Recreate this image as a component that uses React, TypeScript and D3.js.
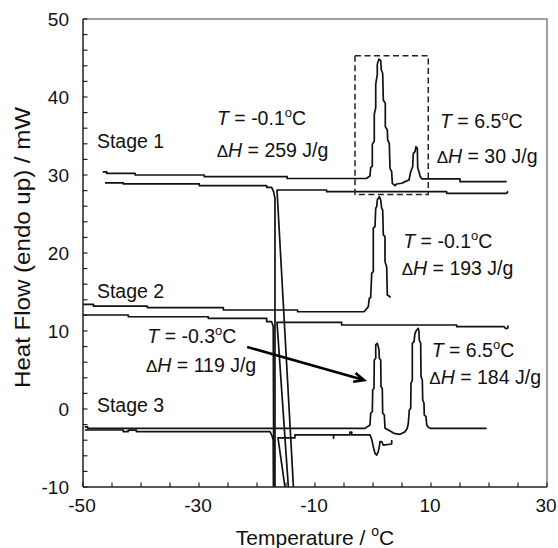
import React from 'react';
import * as d3 from 'd3';

type P = [number, number];

// axis ticks
const xTickLabels = [-50, -30, -10, 10, 30];
const yTickLabels = [-10, 0, 10, 20, 30, 40, 50];
const xMinorStep = 5;
const yMinorStep = 2;

// Stage 1
const stage1Heating: P[] = [
  [-46.6, 30.4], [-45.9, 30.4], [-45.9, 30.2], [-41.0, 30.2], [-41.0, 30.0], [-29.1, 30.0], [-29.1, 29.8],
  [-14.8, 29.8], [-14.8, 29.55], [-1.09, 29.58], [-0.52, 29.87], [-0.40, 30.94], [-0.12, 31.15], [-0.12, 33.93],
  [0.22, 34.36], [0.22, 37.78], [0.47, 38.63], [0.47, 41.62], [0.74, 42.91], [0.74, 44.19], [1.03, 44.87],
  [1.33, 44.65], [1.43, 43.46], [1.67, 43.04], [1.78, 39.62], [2.12, 39.19], [2.12, 36.2], [2.47, 35.77],
  [2.53, 34.49], [2.81, 34.06], [2.93, 30.86], [3.22, 30.42], [3.33, 28.94], [3.79, 28.63], [4.09, 28.85],
  [4.95, 28.94], [5.52, 29.15], [6.21, 29.36], [6.50, 30.42], [6.84, 31.06], [6.95, 32.77], [7.24, 32.99],
  [7.41, 33.63], [7.64, 33.42], [7.71, 30.94], [7.98, 30.30], [8.10, 29.87], [8.40, 29.5], [15.0, 29.5],
  [15.0, 29.15], [23.05, 29.15],
];
const stage1Cooling: P[] = [
  [-46.2, 29.0], [-43.05, 29.0], [-43.05, 28.85], [-29.95, 28.85], [-29.95, 28.63], [-18.33, 28.63],
  [-18.33, 28.42], [-17.48, 28.42], [-17.14, 27.86], [-16.9, 27.0], [-16.9, -12], [-13.57, -12],
  [-16.55, 28.08], [-8.0, 28.08], [-8.0, 27.86], [12.7, 27.86], [12.7, 27.65], [23.0, 27.65], [23.3, 27.9],
];

// Stage 2
const stage2Heating: P[] = [
  [-50, 13.42], [-48.2, 13.42], [-48.2, 13.2], [-38.9, 13.2], [-38.9, 13.0], [-25.8, 13.0], [-25.8, 12.69],
  [-13, 12.69], [-13, 12.47], [-1.55, 12.47], [-0.81, 13.12], [-0.64, 14.19], [-0.40, 14.27], [-0.22, 17.4],
  [0.05, 17.62], [0.05, 23.18], [0.34, 23.38], [0.47, 25.73], [0.64, 25.94], [0.74, 26.8], [1.09, 27.22],
  [1.33, 26.8], [1.50, 25.73], [1.67, 25.51], [1.78, 22.31], [2.07, 22.1], [2.07, 18.89], [2.36, 18.25],
  [2.47, 14.62], [2.93, 14.4], [2.93, 14.27],
];
const stage2Cooling: P[] = [
  [-50, 12.05], [-42.19, 12.05], [-42.19, 11.83], [-28.4, 11.83], [-28.4, 11.63], [-18.33, 11.63],
  [-18.33, 11.19], [-17.48, 11.19], [-17.2, 10.6], [-17.1, -12], [-14.41, -12], [-16.55, 11.1],
  [-5.4, 11.1], [-5.4, 10.77], [14.43, 10.77], [14.43, 10.55], [22.6, 10.55], [22.9, 10.3], [23.2, 10.35],
  [23.3, 10.7],
];

// Stage 3
const stage3Heating: P[] = [
  [-49.7, -2.3], [-49.2, -2.3], [-49.2, -2.48], [-1.38, -2.48], [-0.52, -2.05], [-0.40, -0.55], [-0.12, -0.35],
  [-0.05, 2.44], [0.17, 2.65], [0.22, 6.28], [0.47, 6.5], [0.47, 8.21], [0.74, 8.42], [0.91, 7.99],
  [1.03, 7.56], [1.09, 6.5], [1.33, 6.28], [1.38, 2.86], [1.60, 2.65], [1.67, -0.55], [1.95, -0.77],
  [2.07, -2.47], [2.64, -2.69], [3.62, -3.12], [4.66, -3.25], [5.52, -2.91], [5.91, -2.47], [6.09, -1.83],
  [6.26, -0.13], [6.50, 0.09], [6.55, 3.29], [6.78, 3.72], [6.78, 8.42], [7.07, 8.63], [7.24, 9.7],
  [7.53, 10.13], [7.81, 10.34], [7.93, 9.91], [7.98, 8.85], [8.22, 8.42], [8.28, 4.14], [8.50, 3.72],
  [8.57, 1.15], [8.79, 0.73], [8.84, -0.77], [9.14, -0.98], [9.26, -2.05], [9.53, -2.35], [9.83, -2.48],
  [19.6, -2.48],
];
const stage3Cooling: P[] = [
  [-49.7, -2.69], [-43.05, -2.69], [-43.05, -2.9], [-42.2, -2.9], [-42.2, -2.7], [-40.8, -2.7],
  [-40.8, -2.9], [-17.76, -2.9], [-17.41, -3.45], [-17.19, -4.0], [-17.15, -12], [-14.8, -12],
  [-16.38, -3.7], [-13.45, -3.7], [-13.45, -3.33], [-6.8, -3.33], [-6.8, -3.75], [-6.75, -3.33],
  [-3.97, -3.33], [-3.97, -2.95], [-3.67, -2.95], [-3.67, -3.33], [-0.52, -3.33], [-0.22, -3.88],
  [0.05, -4.83], [0.34, -5.68], [0.64, -5.9], [0.91, -5.47], [1.09, -4.83], [1.21, -4.19], [1.50, -4.19],
  [1.78, -4.62], [3.22, -4.49], [3.22, -3.97],
];

const curves: P[][] = [stage1Heating, stage1Cooling, stage2Heating, stage2Cooling, stage3Heating, stage3Cooling];

// annotations
const stageNames = ['Stage 1', 'Stage 2', 'Stage 3'];
const stageLabelPos: P[] = [[-47.6, 33.4], [-47.6, 14.2], [-47.6, -0.35]];
const peakTemps = ['-0.1', '6.5', '-0.1', '-0.3', '6.5'];
const peakEnthalpies = ['259', '30', '193', '119', '184'];
const peakTempPos: P[] = [[-26.9, 36.41], [11.55, 35.99], [5.22, 20.64], [-38.91, 8.42], [10.12, 6.71]];
const peakEnthalpyPos: P[] = [[-26.95, 32.35], [10.98, 31.5], [4.95, 17.18], [-39.14, 4.78], [9.71, 3.21]];
const arrowFromTo: P[] = [[-21.7, 7.95], [-1.55, 3.7]];
const dashedBoxT = [-3.1, 9.53];
const dashedBoxH = [27.5, 45.3];

const FONT = '"Liberation Sans", Arial, Helvetica, sans-serif';

export default function App() {
  const x = d3.scaleLinear().domain([-50, 30]).range([83, 547]);
  const y = d3.scaleLinear().domain([-10, 50]).range([487, 19]);
  const line = d3.line<P>().x(d => x(d[0])).y(d => y(d[1]));
  const xMinor = d3.range(-50, 30.001, xMinorStep);
  const yMinor = d3.range(-10, 50.001, yMinorStep);

  const [a0, a1] = arrowFromTo;
  const ax0 = x(a0[0]), ay0 = y(a0[1]), ax1 = x(a1[0]), ay1 = y(a1[1]);
  const ang = Math.atan2(ay1 - ay0, ax1 - ax0);
  const hl = 11, hw = 0.42;
  const head = `M${ax1 - hl * Math.cos(ang - hw)},${ay1 - hl * Math.sin(ang - hw)} L${ax1},${ay1} L${ax1 - hl * Math.cos(ang + hw)},${ay1 - hl * Math.sin(ang + hw)}`;

  const fs = 19.5;
  return (
    <svg width={558} height={548} style={{ position: 'absolute', left: 0, top: 0, background: '#fff' }} fontFamily={FONT}>
      <defs>
        <clipPath id="plot">
          <rect x={x(-50)} y={y(50)} width={x(30) - x(-50)} height={y(-10) - y(50)} />
        </clipPath>
      </defs>
      <rect x={0} y={0} width={558} height={548} fill="#fff" />
      {/* frame top/right gray */}
      <path d={`M${x(-50)},${y(50)} H${x(30)} V${y(-10)}`} fill="none" stroke="#808080" strokeWidth={1.5} />
      {/* curves */}
      <g clipPath="url(#plot)" fill="none" stroke="#111" strokeWidth={1.7} strokeLinejoin="round">
        {curves.map((c, i) => <path key={i} d={line(c) || ''} />)}
      </g>
      {/* dashed box */}
      <rect x={x(dashedBoxT[0])} y={y(dashedBoxH[1])} width={x(dashedBoxT[1]) - x(dashedBoxT[0])}
        height={y(dashedBoxH[0]) - y(dashedBoxH[1])} fill="none" stroke="#222" strokeWidth={1.5} strokeDasharray="6,3.5" />
      {/* arrow */}
      <line x1={ax0} y1={ay0} x2={ax1 - 2 * Math.cos(ang)} y2={ay1 - 2 * Math.sin(ang)} stroke="#000" strokeWidth={2.6} />
      <path d={head} fill="none" stroke="#000" strokeWidth={2.6} strokeLinejoin="miter" />
      {/* axes */}
      <g stroke="#222" strokeWidth={1.5}>
        <line x1={x(-50)} y1={y(50)} x2={x(-50)} y2={y(-10)} />
        <line x1={x(-50)} y1={y(-10)} x2={x(30)} y2={y(-10)} />
        {yMinor.map(v => <line key={'y' + v} x1={x(-50)} x2={x(-50) + 4.5} y1={y(v)} y2={y(v)} strokeWidth={1.2} />)}
        {xMinor.map(v => <line key={'x' + v} x1={x(v)} x2={x(v)} y1={y(-10)} y2={y(-10) - 4.5} strokeWidth={1.2} />)}
      </g>
      <g fontSize={19} fill="#111">
        {yTickLabels.map(v => (
          <text key={v} x={x(-50) - 14} y={y(v)} dy="0.35em" textAnchor="end">{v}</text>
        ))}
        {xTickLabels.map(v => (
          <text key={v} x={x(v) - 1} y={y(-10) + 25} textAnchor="middle">{v}</text>
        ))}
      </g>
      <text x={(x(-50) + x(30)) / 2} y={545} textAnchor="middle" fontSize={21} fill="#111">
        Temperature / <tspan fontSize={14} dy={-9}>o</tspan><tspan dy={9}>C</tspan>
      </text>
      <text transform={`translate(30,${247.5}) rotate(-90)`} textAnchor="middle" fontSize={22} fill="#111"
        textLength={281} lengthAdjust="spacingAndGlyphs">Heat Flow (endo up) / mW</text>
      {/* stage labels */}
      <g fontSize={fs} fill="#111">
        {stageNames.map((s, i) => (
          <text key={s} x={x(stageLabelPos[i][0])} y={y(stageLabelPos[i][1])}>{s}</text>
        ))}
        {peakTemps.map((t, i) => (
          <text key={'t' + i} x={x(peakTempPos[i][0])} y={y(peakTempPos[i][1])}>
            <tspan fontStyle="italic">T</tspan> = {t}<tspan fontSize={13} dy={-8}>o</tspan><tspan dy={8}>C</tspan>
          </text>
        ))}
        {peakEnthalpies.map((h, i) => (
          <text key={'h' + i} x={x(peakEnthalpyPos[i][0])} y={y(peakEnthalpyPos[i][1])}>
            <tspan fontSize={17}>Δ</tspan><tspan fontStyle="italic">H</tspan> = {h} J/g
          </text>
        ))}
      </g>
    </svg>
  );
}
